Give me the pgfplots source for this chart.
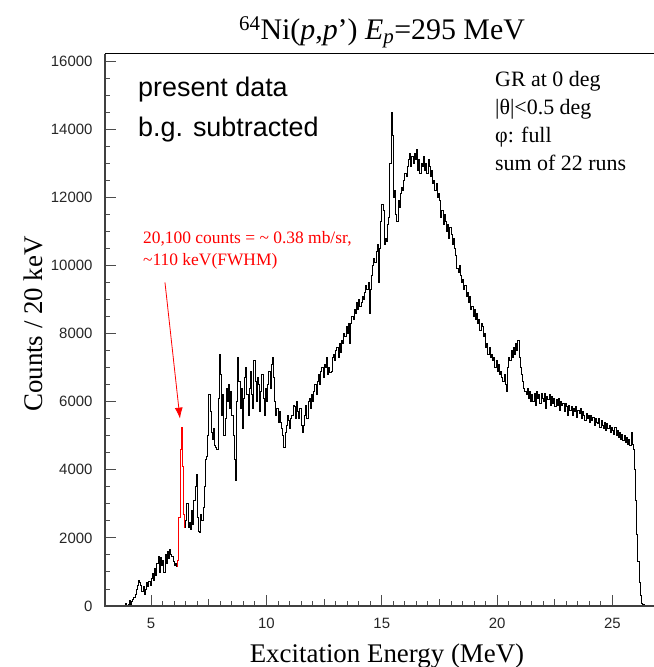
\documentclass[border=0pt]{standalone}
\usepackage{pgfplots}
\pgfplotsset{compat=1.18}
\usepackage{pgfplotstable}
\usetikzlibrary{arrows.meta}
\usepackage{fontspec}
\setmainfont{Liberation Serif}
\newfontfamily\arial{Liberation Sans}
\definecolor{annred}{RGB}{255,0,0}

\pgfplotstableread{
x y
3.0 0
3.5 0
3.6 20
3.7 0
3.85 30
3.9 80
3.95 20
4.0 60
4.05 150
4.1 60
4.15 120
4.2 200
4.25 250
4.3 350
4.35 500
4.4 600
4.45 750
4.5 680
4.55 600
4.6 420
4.65 560
4.7 350
4.75 480
4.8 700
4.85 560
4.9 720
4.95 600
5.0 820
5.05 950
5.1 760
5.15 1100
5.2 900
5.25 1250
5.3 1450
5.35 1000
5.4 1420
5.45 1200
5.5 1350
5.55 1000
5.6 1500
5.65 1250
5.7 1600
5.75 1400
5.8 1650
5.85 1500
5.9 1450
5.95 1300
6.0 1180
6.05 1250
6.1 1150
6.15 1350
6.2 2600
6.25 4600
6.3 5250
6.35 4100
6.4 2700
6.45 2300
6.5 2500
6.55 3000
6.6 2300
6.65 2450
6.7 2250
6.75 2800
6.8 2400
6.85 3100
6.9 3500
6.95 3850
7.0 2600
7.05 2200
7.1 2150
7.15 2700
7.2 2500
7.25 2900
7.3 3500
7.35 4300
7.4 4400
7.45 5000
7.5 6200
7.55 5700
7.6 5100
7.65 4900
7.7 5200
7.75 4700
7.8 4650
7.85 4600
7.9 6100
7.95 7400
8.0 6800
8.05 5600
8.1 6200
8.15 5000
8.2 5500
8.25 6400
8.3 6000
8.35 6500
8.4 5800
8.45 6300
8.5 5600
8.55 5000
8.6 4300
8.65 3700
8.7 6000
8.75 7300
8.8 6600
8.85 5800
8.9 6400
8.95 5200
9.0 6100
9.05 6700
9.1 7000
9.15 6200
9.2 5600
9.25 6400
9.3 6900
9.35 6200
9.4 5800
9.45 7200
9.5 6600
9.55 6000
9.6 6700
9.65 6500
9.7 5700
9.75 6300
9.8 6800
9.85 6100
9.9 5600
9.95 6400
10.0 6000
10.05 6500
10.1 6900
10.15 6400
10.2 7100
10.25 7300
10.3 6700
10.35 6000
10.4 5600
10.45 5800
10.5 5400
10.55 5700
10.6 5400
10.65 5200
10.7 5000
10.75 4650
10.8 5100
10.85 5300
10.9 5600
10.95 5450
11.0 5200
11.05 5500
11.1 5600
11.15 5900
11.2 5850
11.25 5500
11.3 6000
11.35 5700
11.4 5500
11.45 5800
11.5 5300
11.55 5100
11.6 5300
11.65 5600
11.7 5900
11.75 5500
11.8 6000
11.85 6100
11.9 5800
11.95 6200
12.0 6000
12.05 6300
12.1 6500
12.15 6200
12.2 6600
12.25 6800
12.3 6500
12.35 6900
12.4 7000
12.45 6700
12.5 7100
12.55 7000
12.6 7300
12.65 6800
12.7 7000
12.75 6850
12.8 6900
12.85 7300
12.9 7400
12.95 7200
13.0 7500
13.05 7600
13.1 7300
13.15 7700
13.2 7450
13.25 7800
13.3 7700
13.35 8000
13.4 7900
13.45 8200
13.5 8000
13.55 8300
13.6 7700
13.65 8300
13.7 8500
13.75 8400
13.8 8700
13.85 8600
13.9 8900
13.95 8700
14.0 9000
14.05 8800
14.1 8900
14.15 9100
14.2 9000
14.25 9200
14.3 9400
14.35 9300
14.4 9500
14.45 8600
14.5 9300
14.55 9700
14.6 10000
14.65 10200
14.7 10100
14.75 10400
14.8 10600
14.85 9500
14.9 10500
14.95 11300
15.0 11800
15.05 11600
15.1 10600
15.15 10800
15.2 10700
15.25 11200
15.3 11400
15.35 13000
15.4 14500
15.45 13800
15.5 12000
15.55 12200
15.6 11500
15.65 11300
15.7 11900
15.75 11700
15.8 12100
15.85 12300
15.9 12200
15.95 12500
16.0 12700
16.05 12600
16.1 12900
16.15 13100
16.2 13300
16.25 12900
16.3 13200
16.35 13000
16.4 13300
16.45 13100
16.5 13400
16.55 12800
16.6 13100
16.65 12700
16.7 13000
16.75 12900
16.8 13200
16.85 12800
16.9 13000
16.95 12700
17.0 13100
17.05 12900
17.1 12600
17.15 12800
17.2 12400
17.25 12500
17.3 12200
17.35 12400
17.4 12000
17.45 12100
17.5 11900
17.55 11400
17.6 11600
17.65 11200
17.7 11500
17.75 11300
17.8 11000
17.85 11200
17.9 10800
17.95 11100
18.0 10900
18.05 10600
18.1 10800
18.15 10500
18.2 10300
18.25 9900
18.3 9800
18.35 10000
18.4 9700
18.45 9500
18.5 9600
18.55 9300
18.6 9400
18.65 9100
18.7 9200
18.75 8900
18.8 9100
18.85 8700
18.9 8800
18.95 8500
19.0 8700
19.05 8400
19.1 8600
19.15 8300
19.2 8400
19.25 8100
19.3 8300
19.35 8200
19.4 7900
19.45 8000
19.5 7600
19.55 7700
19.6 7400
19.65 7600
19.7 7300
19.75 7400
19.8 7200
19.85 7300
19.9 7000
19.95 7200
20.0 6900
20.05 7100
20.1 6800
20.15 6900
20.2 6700
20.25 6600
20.3 6800
20.35 6500
20.4 6300
20.45 7000
20.5 7300
20.55 7200
20.6 7500
20.65 7300
20.7 7600
20.75 7400
20.8 7700
20.85 7500
20.9 7800
20.95 7300
21.0 7000
21.05 6800
21.1 6600
21.15 6400
21.2 6300
21.25 6200
21.3 6400
21.35 6100
21.4 6300
21.45 6000
21.5 6200
21.55 6000
21.6 6250
21.65 5900
21.7 6300
21.75 6100
21.8 6200
21.85 5950
21.9 6250
21.95 6100
22.0 6000
22.05 6250
22.1 5800
22.15 6150
22.2 6050
22.25 6200
22.3 5900
22.35 6150
22.4 5950
22.45 6100
22.5 5850
22.55 6050
22.6 5900
22.65 6100
22.7 5750
22.75 6000
22.8 5900
22.85 5950
22.9 5700
22.95 5950
23.0 5850
23.05 5600
23.1 5900
23.15 5750
23.2 5850
23.25 5600
23.3 5800
23.35 5700
23.4 5850
23.45 5550
23.5 5750
23.55 5650
23.6 5800
23.65 5500
23.7 5700
23.75 5600
23.8 5450
23.85 5650
23.9 5500
23.95 5600
24.0 5400
24.05 5600
24.1 5450
24.15 5550
24.2 5300
24.25 5500
24.3 5400
24.35 5350
24.4 5500
24.45 5250
24.5 5450
24.55 5300
24.6 5200
24.65 5400
24.7 5150
24.75 5350
24.8 5200
24.85 5300
24.9 5100
24.95 5250
25.0 5150
25.05 5050
25.1 5250
25.15 5000
25.2 5150
25.25 4950
25.3 5100
25.35 4900
25.4 5050
25.45 4850
25.5 5000
25.55 4800
25.6 4950
25.65 4750
25.7 4900
25.75 4700
25.8 5100
25.85 4750
25.9 4600
25.95 4000
26.0 3100
26.05 2100
26.1 1300
26.15 700
26.2 300
26.25 80
26.3 0
26.35 60
26.4 0
26.8 0
}\spectrum

\pgfplotstableread{
x y
6.1 1150
6.15 1350
6.2 2600
6.25 4600
6.3 5250
6.35 4100
6.4 2700
6.45 2300
}\peak

\begin{document}
\begin{tikzpicture}
\begin{axis}[
  at={(0,0)}, anchor=south west,
  scale only axis,
  width=549bp, height=552bp,
  xmin=3, xmax=26.8,
  ymin=0, ymax=16205,
  axis line style={draw=none},
  tick pos=left,
  tick align=inside,
  xtick={5,10,15,20,25},
  ytick={0,2000,4000,6000,8000,10000,12000,14000,16000},
  minor x tick num=9,
  minor y tick num=3,
  extra x ticks={7.5,12.5,17.5,22.5},
  extra x tick labels={},
  extra x tick style={major tick length=7.5bp},
  major tick length=11bp,
  minor tick length=5.5bp,
  every tick/.style={black!70, line width=0.9bp},
  scaled y ticks=false,
  /pgf/number format/assume math mode=true,
  /pgf/number format/1000 sep={},
  ticklabel style={font=\arial\fontsize{15}{15}\selectfont, text=black!85},
  yticklabel style={xshift=-9bp},
  xticklabel style={yshift=-9bp},
  clip=false,
]
\addplot[const plot, black, line width=0.85bp] table[x=x,y=y] {\spectrum};
\addplot[const plot, annred, line width=0.9bp] table[x=x,y=y] {\peak};
\draw[black!75, line width=1.3bp] (rel axis cs:1,0) -- (rel axis cs:0,0) -- (rel axis cs:0,1);
\draw[black, line width=1bp] (rel axis cs:0,1) -- (rel axis cs:1,1);
\draw[annred, line width=0.8bp, -{Latex[length=11bp,width=8bp]}] (axis cs:5.6,9500) -- (axis cs:6.25,5500);
\end{axis}
% labels, coordinates in bp relative to axis origin: (px-105, 606-py)
\node[font=\fontsize{30}{30}\selectfont, anchor=base] at (277bp,566bp)
  {\textsuperscript{64}Ni(\textit{p},\textit{p}’) \textit{E}\textsubscript{\textit{p}}=295 MeV};
\node[font=\fontsize{27}{27}\selectfont, rotate=90] at (-72bp,282bp) {Counts / 20 keV};
\node[font=\fontsize{27}{27}\selectfont] at (282bp,-50bp) {Excitation Energy (MeV)};
\node[font=\arial\fontsize{27}{27}\selectfont, anchor=base west, inner sep=0pt] at (33bp,509bp) {present data};
\node[font=\arial\fontsize{27}{27}\selectfont, anchor=base west, inner sep=0pt] at (33bp,469bp) {b.g. subtracted};
\node[font=\fontsize{22}{28}\selectfont, anchor=north west, align=left, inner sep=0pt] at (390bp,535bp)
  {GR at 0 deg\\|θ|<0.5 deg\\φ: full\\sum of 22 runs};
\node[font=\fontsize{17.5}{22}\selectfont, text=annred, anchor=north west, align=left, inner sep=0pt] at (38bp,375bp)
  {20,100 counts = \textasciitilde{} 0.38 mb/sr,\\\textasciitilde{}110 keV(FWHM)};
\pgfresetboundingbox
\path[use as bounding box] (-105bp,-61bp) rectangle (549bp,606bp);
\end{tikzpicture}
\end{document}
